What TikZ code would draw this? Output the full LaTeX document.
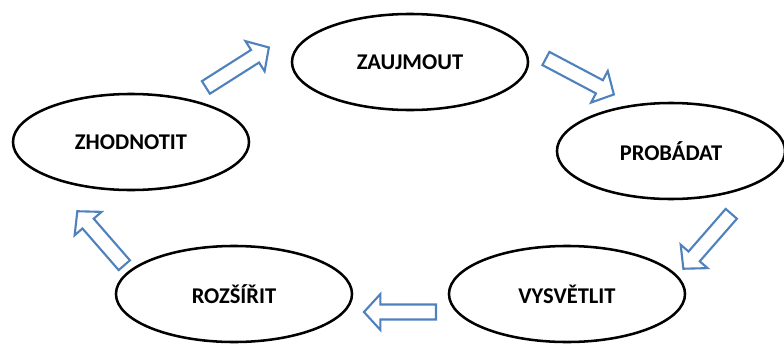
\documentclass[tikz,border=0pt]{standalone}
\usepackage{fontspec}
\setmainfont{Carlito}
\usepackage{tikz}
\usepackage{xcolor}
\usetikzlibrary{calc, shapes.geometric, shapes.arrows}

\definecolor{arrowblue}{RGB}{79,129,189}

\tikzset{
    phase/.style={ellipse, draw=black, line width=1.8pt, fill=white,
        minimum width=5.9cm, minimum height=2.4cm, inner sep=0pt,
        font=\fontsize{16}{19}\selectfont\bfseries},
    blockarrow/.style={single arrow, draw=arrowblue, line width=1.5pt, fill=white,
        inner xsep=0pt, inner ysep=0.16cm, single arrow head extend=0.26cm,
        single arrow tip angle=95, single arrow head indent=0pt}
}

% hollow arrow from tail #1 to tip #2
\newcommand{\flowarrow}[2]{%
    \path let \p1=($(#2)-(#1)$), \n1={atan2(\y1,\x1)}, \n2={veclen(\x1,\y1)} in
        node[blockarrow, rotate=\n1, minimum height=\n2, anchor=tail] at (#1) {};}

\begin{document}
\begin{tikzpicture}[x=0.025cm, y=-0.025cm]
    \useasboundingbox (0,0) rectangle (784,343);

    % Phases of the cycle
    \node[phase] (zaujmout) at (410,62) {ZAUJMOUT};
    \node[phase, minimum width=5.7cm] (probadat) at (671,151) {PROBÁDAT};
    \node[phase] (vysvetlit) at (567,294) {VYSVĚTLIT};
    \node[phase] (rozsirit) at (234,294) {ROZŠÍŘIT};
    \node[phase] (zhodnotit) at (131,142) {ZHODNOTIT};

    % Arrow ends
    \coordinate (a1) at (205,88);  \coordinate (b1) at (268,48);
    \coordinate (a2) at (545,58);  \coordinate (b2) at (613,94);
    \coordinate (a3) at (732,213); \coordinate (b3) at (684,268);
    \coordinate (a4) at (437,312); \coordinate (b4) at (365,312);
    \coordinate (a5) at (125,266); \coordinate (b5) at (78,212);

    % Arrows between phases
    \flowarrow{a1}{b1}
    \flowarrow{a2}{b2}
    \flowarrow{a3}{b3}
    \flowarrow{a4}{b4}
    \flowarrow{a5}{b5}
\end{tikzpicture}
\end{document}
